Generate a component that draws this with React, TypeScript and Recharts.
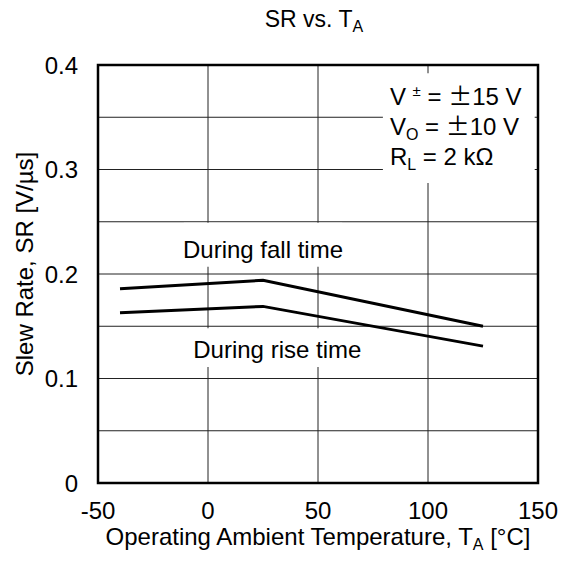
import React from 'react';
import { LineChart, Line, XAxis, YAxis, CartesianGrid, ReferenceArea } from 'recharts';

// readings (TA in °C, SR in V/µs)
const temps = [-40, 25, 125];
const fallRate = [0.186, 0.194, 0.150];
const riseRate = [0.163, 0.169, 0.131];

const xTicks = [-50, 0, 50, 100, 150];
const yTicks = [0, 0.05, 0.1, 0.15, 0.2, 0.25, 0.3, 0.35, 0.4];

const data = temps.map((t, i) => ({ t, fall: fallRate[i], rise: riseRate[i] }));

const FONT = '"Liberation Sans", Arial, Helvetica, sans-serif';
const WIDE = '"Noto Sans CJK JP", "Liberation Sans", sans-serif';

const fmtY = (v: number) => {
  const k = Math.round(v * 100);
  if (k % 10 !== 0) return '';
  return k === 0 ? '0' : v.toFixed(1);
};

// notes drawn inside the white boxes (label content of ReferenceArea)
const Conditions = (props: any) => {
  const vb = props.viewBox || { x: 0, y: 0 };
  const x = vb.x + 7;
  const y = vb.y;
  return (
    <g fontFamily={FONT} fill="#000" fontSize={24}>
      <text x={x} y={y + 32}>
        V <tspan fontSize={15} dy={-9}>±</tspan>
        <tspan dy={9}> = </tspan>
        <tspan fontFamily={WIDE}>±</tspan>15 V
      </text>
      <text x={x} y={y + 62}>
        V<tspan fontSize={16} dy={5}>O</tspan>
        <tspan dy={-5}> = </tspan>
        <tspan fontFamily={WIDE}>±</tspan>10 V
      </text>
      <text x={x} y={y + 92}>
        R<tspan fontSize={16} dy={5}>L</tspan>
        <tspan dy={-5}> = 2 kΩ</tspan>
      </text>
    </g>
  );
};

const Note = (props: any) => {
  const vb = props.viewBox || { x: 0, y: 0, width: 0, height: 0 };
  return (
    <text
      x={vb.x + vb.width / 2}
      y={vb.y + vb.height - 9}
      fontFamily={FONT}
      fontSize={24}
      fill="#000"
      textAnchor="middle"
    >
      {props.text}
    </text>
  );
};

export default function App() {
  return (
    <div style={{ position: 'absolute', left: 0, top: 0, background: '#fff' }}>
      <LineChart
        width={570}
        height={571}
        data={data}
        margin={{ top: 65, right: 32, bottom: 38, left: 0 }}
      >
        <CartesianGrid stroke="#222" strokeWidth={1} xAxisId="x" />
        <XAxis
          xAxisId="x"
          dataKey="t"
          type="number"
          domain={[-50, 150]}
          ticks={xTicks}
          height={50}
          tickLine={false}
          tickSize={0}
          tickMargin={19}
          axisLine={false}
          tick={{ fill: '#000', fontSize: 24, fontFamily: FONT }}
        />
        <YAxis
          type="number"
          domain={[0, 0.4]}
          ticks={yTicks}
          width={98}
          tickLine={false}
          tickSize={0}
          tickMargin={20}
          axisLine={false}
          tickFormatter={fmtY}
          tick={{ fill: '#000', fontSize: 24, fontFamily: FONT }}
        />
        <ReferenceArea xAxisId="x" x1={79.5} x2={148.5} y1={0.287} y2={0.392} fill="#fff" fillOpacity={1} stroke="none" label={<Conditions />} />
        <ReferenceArea xAxisId="x" x1={-11} x2={61} y1={0.207} y2={0.249} fill="#fff" fillOpacity={1} stroke="none" label={<Note text="During fall time" />} />
        <ReferenceArea xAxisId="x" x1={-7} x2={70} y1={0.111} y2={0.148} fill="#fff" fillOpacity={1} stroke="none" label={<Note text="During rise time" />} />
        <ReferenceArea xAxisId="x" x1={-50} x2={150} y1={0} y2={0.4} fill="none" stroke="#000" strokeWidth={2.5} />
        <Line xAxisId="x" dataKey="fall" stroke="#000" strokeWidth={3} dot={false} isAnimationActive={false} />
        <Line xAxisId="x" dataKey="rise" stroke="#000" strokeWidth={3} dot={false} isAnimationActive={false} />
        <g fontFamily={FONT} fill="#000">
          <text x={314} y={27} fontSize={23} textAnchor="middle">
            SR vs. T<tspan fontSize={16} dy={5}>A</tspan>
          </text>
          <text x={318} y={545} fontSize={24} textAnchor="middle">
            Operating Ambient Temperature, T<tspan fontSize={16} dy={5}>A</tspan>
            <tspan dy={-5}> [°C]</tspan>
          </text>
          <text transform="translate(33,264) rotate(-90)" fontSize={24} textAnchor="middle">
            Slew Rate, SR [V/µs]
          </text>
        </g>
      </LineChart>
    </div>
  );
}
